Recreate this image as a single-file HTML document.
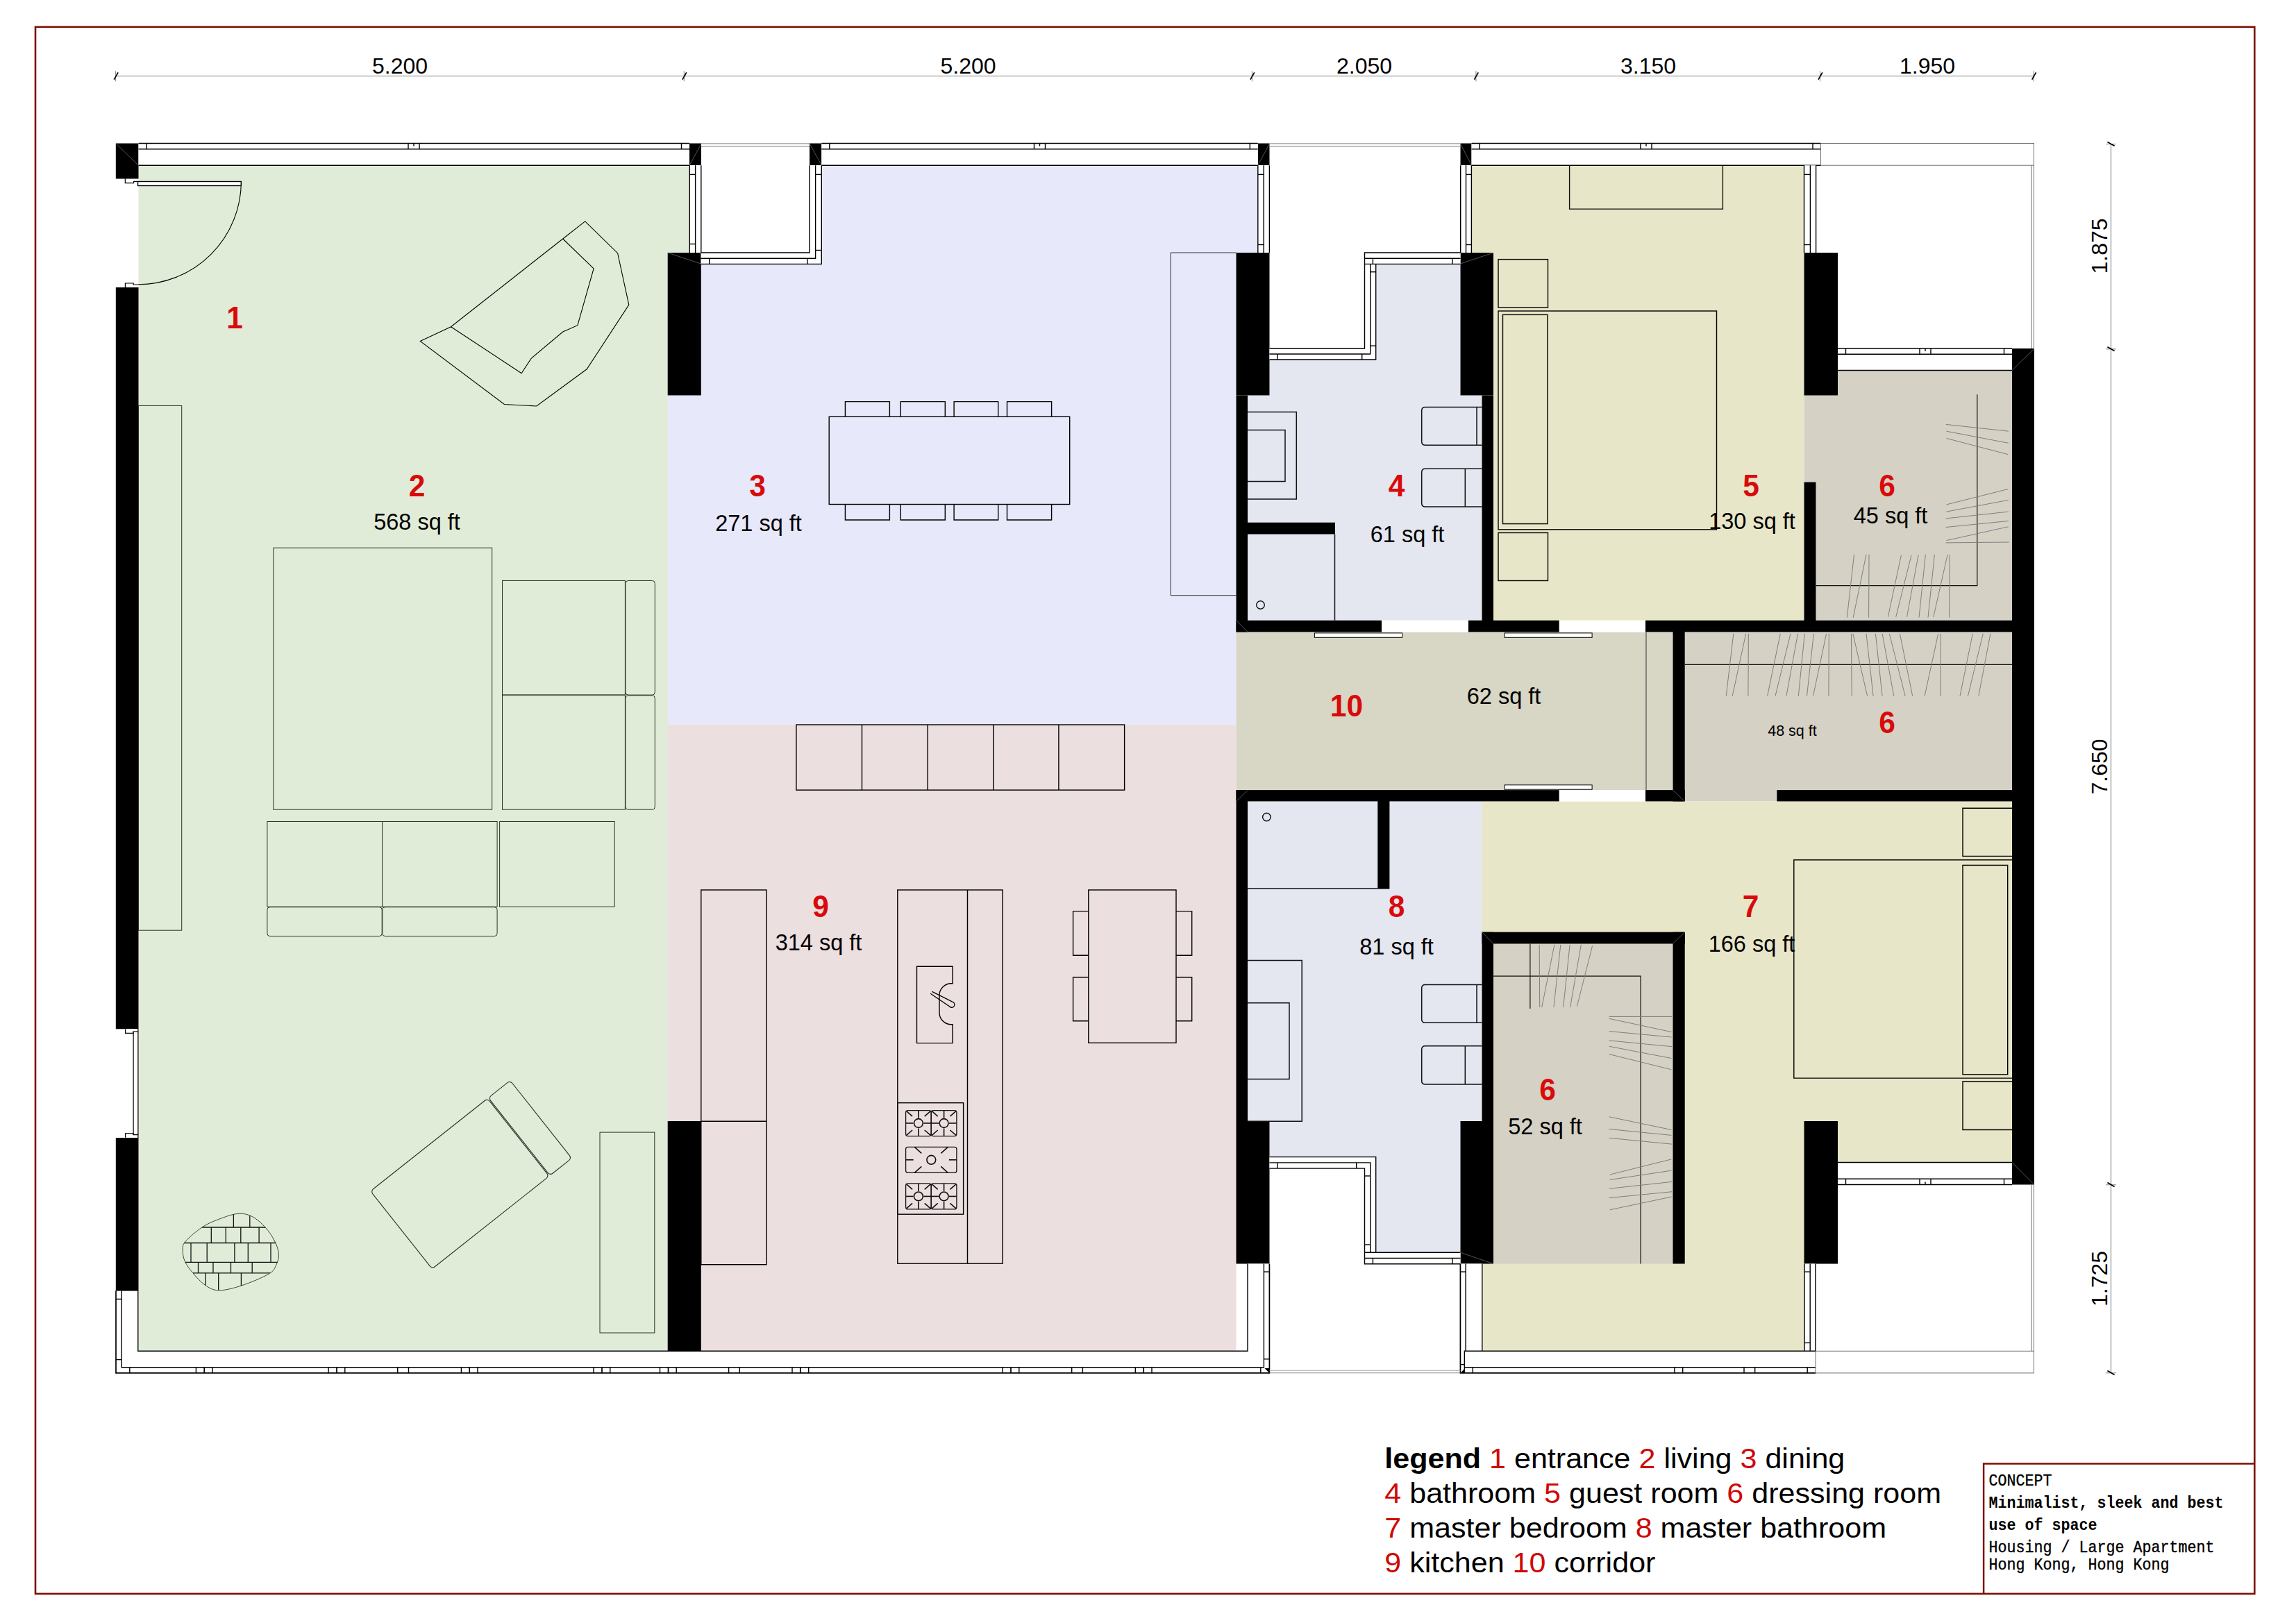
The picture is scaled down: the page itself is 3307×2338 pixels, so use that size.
<!DOCTYPE html>
<html><head><meta charset="utf-8"><title>Floor plan</title>
<style>
html,body{margin:0;padding:0;background:#fff;}
body{width:3307px;height:2338px;overflow:hidden;font-family:"Liberation Sans",sans-serif;}
svg{display:block;}
</style></head><body>
<svg width="3307" height="2338" viewBox="0 0 3307 2338" font-family="'Liberation Sans', sans-serif">
<rect x="0" y="0" width="3307" height="2338" fill="#fff"/>
<rect x="199.5" y="238" width="762.7" height="1708" fill="#e1ecd8"/>
<rect x="961.7" y="238" width="31.3" height="126" fill="#e1ecd8"/>
<path d="M1183 238 L1812 238 L1812 364 L1780.5 364 L1780.5 1043.5 L961.7 1043.5 L961.7 569.5 L1009.8 569.5 L1009.8 380 L1183 380 Z" fill="#e8e8fb"/>
<path d="M961.7 1043.5 L1780.5 1043.5 L1780.5 1946 L1009.8 1946 L1009.8 1615 L961.7 1615 Z" fill="#ecdfe0"/>
<rect x="961.7" y="1615" width="48.1" height="331" fill="#ecdfe0"/>
<path d="M1981.5 380 L2103.5 380 L2103.5 569.5 L2134.5 569.5 L2134.5 893.7 L1797 893.7 L1797 569.5 L1828.5 569.5 L1828.5 518 L1981.5 518 Z" fill="#e4e6f0"/>
<path d="M1797 1154.4 L2134.5 1154.4 L2134.5 1615 L2103.5 1615 L2103.5 1805 L1981.5 1805 L1981.5 1667 L1828.5 1667 L1828.5 1615 L1797 1615 Z" fill="#e4e6f0"/>
<path d="M2119.5 238 L2598.5 238 L2598.5 893.7 L2151 893.7 L2151 364 L2119.5 364 Z" fill="#e8e6c8"/>
<path d="M2134.5 1154.4 L2898 1154.4 L2898 1674.5 L2647 1674.5 L2647 1820.5 L2598.5 1820.5 L2598.5 1946 L2134.5 1946 Z" fill="#e8e6c8"/>
<path d="M2598.5 534 L2898 534 L2898 893.7 L2615.5 893.7 L2615.5 694.5 L2598.5 694.5 Z" fill="#d5d1c5"/>
<rect x="2426.5" y="910.4" width="471.5" height="244" fill="#d5d1c5"/>
<rect x="2151" y="1359.5" width="258.5" height="461" fill="#d5d1c5"/>
<rect x="1780.5" y="910.4" width="629" height="227.7" fill="#d8d6c4"/>
<rect x="166.8" y="206.5" width="32.7" height="51" fill="#000"/>
<rect x="166.8" y="414" width="32.7" height="1068.3" fill="#000"/>
<rect x="166.8" y="1639" width="32.7" height="221" fill="#000"/>
<rect x="993" y="206.5" width="17" height="31.5" fill="#000"/>
<rect x="1166" y="206.5" width="17.3" height="31.5" fill="#000"/>
<rect x="1811.8" y="206.5" width="16.7" height="31.5" fill="#000"/>
<rect x="2103.5" y="206.5" width="16" height="31.5" fill="#000"/>
<rect x="961.7" y="364" width="48.1" height="205.5" fill="#000"/>
<rect x="1780.5" y="364" width="48" height="205.5" fill="#000"/>
<rect x="2103.5" y="364" width="47.5" height="205.5" fill="#000"/>
<rect x="2598.5" y="364" width="48.5" height="205.5" fill="#000"/>
<rect x="961.7" y="1615" width="48.1" height="331" fill="#000"/>
<rect x="1780.5" y="1615" width="48" height="205.5" fill="#000"/>
<rect x="2103.5" y="1615" width="47.5" height="205.5" fill="#000"/>
<rect x="2598.5" y="1615" width="48.5" height="205.5" fill="#000"/>
<rect x="1780.5" y="569.5" width="16.5" height="340.9" fill="#000"/>
<rect x="1780.5" y="1138.1" width="16.5" height="476.9" fill="#000"/>
<rect x="2134.5" y="569.5" width="16.5" height="325.2" fill="#000"/>
<rect x="2598.5" y="694.5" width="17" height="200.2" fill="#000"/>
<rect x="2898" y="502" width="32" height="1204.5" fill="#000"/>
<rect x="2409.5" y="909.4" width="17.2" height="245" fill="#000"/>
<rect x="1780.5" y="893.7" width="209.5" height="16.7" fill="#000"/>
<rect x="2114.7" y="893.7" width="131.1" height="16.7" fill="#000"/>
<rect x="2370" y="893.7" width="529" height="16.7" fill="#000"/>
<rect x="1780.5" y="1138.1" width="465.3" height="16.3" fill="#000"/>
<rect x="2370" y="1138.1" width="56.7" height="16.3" fill="#000"/>
<rect x="2559.3" y="1138.1" width="339.7" height="16.3" fill="#000"/>
<rect x="1796" y="752.7" width="127" height="16.8" fill="#000"/>
<rect x="1984.3" y="1153.4" width="17.1" height="127.2" fill="#000"/>
<rect x="2134.5" y="1342.7" width="292.2" height="16.8" fill="#000"/>
<rect x="2134.5" y="1342.7" width="16.5" height="273.3" fill="#000"/>
<rect x="2409.5" y="1342.7" width="17.2" height="477.8" fill="#000"/>
<rect x="1990" y="893.7" width="124.7" height="16.7" fill="#fff"/>
<rect x="2245.8" y="893.7" width="124.2" height="16.7" fill="#fff"/>
<rect x="2245.8" y="1138.1" width="124.2" height="16.3" fill="#fff"/>
<rect x="199.5" y="206.5" width="793.5" height="31.7" fill="#fff"/>
<line x1="199.5" y1="206.5" x2="993" y2="206.5" stroke="#000" stroke-width="1.7"/>
<line x1="199.5" y1="214.8" x2="993" y2="214.8" stroke="#000" stroke-width="1.4"/>
<line x1="199.5" y1="238.2" x2="993" y2="238.2" stroke="#000" stroke-width="1.4"/>
<line x1="211" y1="206.5" x2="211" y2="214.8" stroke="#000" stroke-width="1.4"/>
<line x1="981.5" y1="206.5" x2="981.5" y2="214.8" stroke="#000" stroke-width="1.4"/>
<line x1="588" y1="206.5" x2="588" y2="214.8" stroke="#000" stroke-width="1.4"/>
<line x1="604" y1="206.5" x2="604" y2="214.8" stroke="#000" stroke-width="1.4"/>
<line x1="596" y1="206.5" x2="596" y2="210.5" stroke="#000" stroke-width="1.4"/>
<rect x="1183.3" y="206.5" width="628.5" height="31.7" fill="#fff"/>
<line x1="1183.3" y1="206.5" x2="1811.8" y2="206.5" stroke="#000" stroke-width="1.7"/>
<line x1="1183.3" y1="214.8" x2="1811.8" y2="214.8" stroke="#000" stroke-width="1.4"/>
<line x1="1183.3" y1="238.2" x2="1811.8" y2="238.2" stroke="#000" stroke-width="1.4"/>
<line x1="1194.8" y1="206.5" x2="1194.8" y2="214.8" stroke="#000" stroke-width="1.4"/>
<line x1="1800.3" y1="206.5" x2="1800.3" y2="214.8" stroke="#000" stroke-width="1.4"/>
<line x1="1489.5" y1="206.5" x2="1489.5" y2="214.8" stroke="#000" stroke-width="1.4"/>
<line x1="1505.5" y1="206.5" x2="1505.5" y2="214.8" stroke="#000" stroke-width="1.4"/>
<line x1="1497.5" y1="206.5" x2="1497.5" y2="210.5" stroke="#000" stroke-width="1.4"/>
<rect x="2119.5" y="206.5" width="503" height="31.7" fill="#fff"/>
<line x1="2119.5" y1="206.5" x2="2622.5" y2="206.5" stroke="#000" stroke-width="1.7"/>
<line x1="2119.5" y1="214.8" x2="2622.5" y2="214.8" stroke="#000" stroke-width="1.4"/>
<line x1="2119.5" y1="238.2" x2="2622.5" y2="238.2" stroke="#000" stroke-width="1.4"/>
<line x1="2131" y1="206.5" x2="2131" y2="214.8" stroke="#000" stroke-width="1.4"/>
<line x1="2611" y1="206.5" x2="2611" y2="214.8" stroke="#000" stroke-width="1.4"/>
<line x1="2363" y1="206.5" x2="2363" y2="214.8" stroke="#000" stroke-width="1.4"/>
<line x1="2379" y1="206.5" x2="2379" y2="214.8" stroke="#000" stroke-width="1.4"/>
<line x1="2371" y1="206.5" x2="2371" y2="210.5" stroke="#000" stroke-width="1.4"/>
<rect x="993.3" y="238.2" width="16.5" height="125.8" fill="#fff"/>
<line x1="993.3" y1="238.2" x2="993.3" y2="364" stroke="#000" stroke-width="1.4"/>
<line x1="1001.6" y1="238.2" x2="1001.6" y2="364" stroke="#000" stroke-width="1.4"/>
<line x1="1009.8" y1="238.2" x2="1009.8" y2="364" stroke="#000" stroke-width="1.4"/>
<line x1="993.3" y1="251.4" x2="1001.6" y2="251.4" stroke="#000" stroke-width="1.4"/>
<line x1="993.3" y1="351.5" x2="1001.6" y2="351.5" stroke="#000" stroke-width="1.4"/>
<rect x="1009.5" y="364" width="173.8" height="16.4" fill="#fff"/>
<rect x="1166" y="238.2" width="17.3" height="142.2" fill="#fff"/>
<path d="M1009.8 364 L1166 364 L1166 238.2" fill="none" stroke="#000" stroke-width="1.4" stroke-linejoin="miter"/>
<path d="M1009.5 372.2 L1174.6 372.2 L1174.6 238.2" fill="none" stroke="#000" stroke-width="1.4" stroke-linejoin="miter"/>
<path d="M1009.5 380.4 L1183.3 380.4 L1183.3 238.2" fill="none" stroke="#000" stroke-width="1.4" stroke-linejoin="miter"/>
<line x1="1021.7" y1="372.2" x2="1021.7" y2="380.4" stroke="#000" stroke-width="1.4"/>
<line x1="1162.7" y1="372.2" x2="1162.7" y2="380.4" stroke="#000" stroke-width="1.4"/>
<line x1="1174.6" y1="251.4" x2="1183.3" y2="251.4" stroke="#000" stroke-width="1.4"/>
<line x1="1174.6" y1="360.5" x2="1183.3" y2="360.5" stroke="#000" stroke-width="1.4"/>
<rect x="1811.8" y="238.2" width="16.6" height="125.8" fill="#fff"/>
<line x1="1811.8" y1="238.2" x2="1811.8" y2="364" stroke="#000" stroke-width="1.4"/>
<line x1="1820.2" y1="238.2" x2="1820.2" y2="364" stroke="#000" stroke-width="1.4"/>
<line x1="1828.4" y1="238.2" x2="1828.4" y2="364" stroke="#000" stroke-width="1.4"/>
<line x1="1811.8" y1="251.4" x2="1820.2" y2="251.4" stroke="#000" stroke-width="1.4"/>
<line x1="1811.8" y1="352.5" x2="1820.2" y2="352.5" stroke="#000" stroke-width="1.4"/>
<rect x="1828.5" y="502" width="153.2" height="16" fill="#fff"/>
<rect x="1965.5" y="364" width="16.2" height="154" fill="#fff"/>
<rect x="1965.5" y="364" width="138" height="16.4" fill="#fff"/>
<path d="M1828.5 502 L1965.5 502 L1965.5 364 L2103.5 364" fill="none" stroke="#000" stroke-width="1.4" stroke-linejoin="miter"/>
<path d="M1828.5 510 L1973.7 510 L1973.7 380.4" fill="none" stroke="#000" stroke-width="1.4" stroke-linejoin="miter"/>
<path d="M1828.5 518 L1981.7 518 L1981.7 380.4" fill="none" stroke="#000" stroke-width="1.4" stroke-linejoin="miter"/>
<path d="M1965.5 372.2 L2103.5 372.2" fill="none" stroke="#000" stroke-width="1.4" stroke-linejoin="miter"/>
<path d="M1965.5 380.4 L2103.5 380.4" fill="none" stroke="#000" stroke-width="1.4" stroke-linejoin="miter"/>
<line x1="1839.8" y1="510" x2="1839.8" y2="518" stroke="#000" stroke-width="1.4"/>
<line x1="1961.7" y1="510" x2="1961.7" y2="518" stroke="#000" stroke-width="1.4"/>
<line x1="1973.7" y1="391.7" x2="1981.7" y2="391.7" stroke="#000" stroke-width="1.4"/>
<line x1="1973.7" y1="498.2" x2="1981.7" y2="498.2" stroke="#000" stroke-width="1.4"/>
<line x1="1977.4" y1="372.2" x2="1977.4" y2="380.4" stroke="#000" stroke-width="1.4"/>
<line x1="2091.8" y1="372.2" x2="2091.8" y2="380.4" stroke="#000" stroke-width="1.4"/>
<rect x="2103.7" y="238.2" width="15.7" height="125.8" fill="#fff"/>
<line x1="2119.4" y1="238.2" x2="2119.4" y2="364" stroke="#000" stroke-width="1.4"/>
<line x1="2111.5" y1="238.2" x2="2111.5" y2="364" stroke="#000" stroke-width="1.4"/>
<line x1="2103.7" y1="238.2" x2="2103.7" y2="364" stroke="#000" stroke-width="1.4"/>
<line x1="2119.4" y1="251.4" x2="2111.5" y2="251.4" stroke="#000" stroke-width="1.4"/>
<line x1="2119.4" y1="352.5" x2="2111.5" y2="352.5" stroke="#000" stroke-width="1.4"/>
<rect x="2598.5" y="238.2" width="17.1" height="125.8" fill="#fff"/>
<line x1="2598.5" y1="238.2" x2="2598.5" y2="364" stroke="#000" stroke-width="1.4"/>
<line x1="2607.4" y1="238.2" x2="2607.4" y2="364" stroke="#000" stroke-width="1.4"/>
<line x1="2615.6" y1="238.2" x2="2615.6" y2="364" stroke="#000" stroke-width="1.4"/>
<line x1="2598.5" y1="251.4" x2="2607.4" y2="251.4" stroke="#000" stroke-width="1.4"/>
<line x1="2598.5" y1="352.5" x2="2607.4" y2="352.5" stroke="#000" stroke-width="1.4"/>
<rect x="2647" y="502" width="251" height="31.5" fill="#fff"/>
<line x1="2647" y1="502" x2="2898" y2="502" stroke="#000" stroke-width="1.7"/>
<line x1="2647" y1="510.3" x2="2898" y2="510.3" stroke="#000" stroke-width="1.4"/>
<line x1="2647" y1="533.5" x2="2898" y2="533.5" stroke="#000" stroke-width="1.4"/>
<line x1="2658.5" y1="502" x2="2658.5" y2="510.3" stroke="#000" stroke-width="1.4"/>
<line x1="2886.5" y1="502" x2="2886.5" y2="510.3" stroke="#000" stroke-width="1.4"/>
<line x1="2765" y1="502" x2="2765" y2="510.3" stroke="#000" stroke-width="1.4"/>
<line x1="2781" y1="502" x2="2781" y2="510.3" stroke="#000" stroke-width="1.4"/>
<line x1="2773" y1="502" x2="2773" y2="506" stroke="#000" stroke-width="1.4"/>
<rect x="2647" y="1674.5" width="251" height="32" fill="#fff"/>
<line x1="2647" y1="1706.5" x2="2898" y2="1706.5" stroke="#000" stroke-width="1.7"/>
<line x1="2647" y1="1698.2" x2="2898" y2="1698.2" stroke="#000" stroke-width="1.4"/>
<line x1="2647" y1="1674.5" x2="2898" y2="1674.5" stroke="#000" stroke-width="1.4"/>
<line x1="2658.5" y1="1706.5" x2="2658.5" y2="1698.2" stroke="#000" stroke-width="1.4"/>
<line x1="2886.5" y1="1706.5" x2="2886.5" y2="1698.2" stroke="#000" stroke-width="1.4"/>
<line x1="2765" y1="1706.5" x2="2765" y2="1698.2" stroke="#000" stroke-width="1.4"/>
<line x1="2781" y1="1706.5" x2="2781" y2="1698.2" stroke="#000" stroke-width="1.4"/>
<line x1="2773" y1="1706.5" x2="2773" y2="1702.5" stroke="#000" stroke-width="1.4"/>
<rect x="1828.5" y="1666.6" width="153.2" height="16.5" fill="#fff"/>
<rect x="1965.5" y="1666.6" width="16.2" height="154.1" fill="#fff"/>
<rect x="1965.5" y="1804.2" width="138" height="16.5" fill="#fff"/>
<path d="M1828.5 1683.1 L1965.5 1683.1 L1965.5 1820.7 L2103.5 1820.7" fill="none" stroke="#000" stroke-width="1.4" stroke-linejoin="miter"/>
<path d="M1828.5 1674.9 L1973.7 1674.9 L1973.7 1804.2" fill="none" stroke="#000" stroke-width="1.4" stroke-linejoin="miter"/>
<path d="M1828.5 1666.6 L1981.7 1666.6 L1981.7 1804.2" fill="none" stroke="#000" stroke-width="1.4" stroke-linejoin="miter"/>
<path d="M1965.5 1812.5 L2103.5 1812.5" fill="none" stroke="#000" stroke-width="1.4" stroke-linejoin="miter"/>
<path d="M1965.5 1804.2 L2103.5 1804.2" fill="none" stroke="#000" stroke-width="1.4" stroke-linejoin="miter"/>
<line x1="1839.8" y1="1674.9" x2="1839.8" y2="1683.1" stroke="#000" stroke-width="1.4"/>
<line x1="1953.7" y1="1674.9" x2="1953.7" y2="1683.1" stroke="#000" stroke-width="1.4"/>
<line x1="1965.5" y1="1694" x2="1973.7" y2="1694" stroke="#000" stroke-width="1.4"/>
<line x1="1965.5" y1="1793" x2="1973.7" y2="1793" stroke="#000" stroke-width="1.4"/>
<line x1="1977.4" y1="1812.5" x2="1977.4" y2="1820.7" stroke="#000" stroke-width="1.4"/>
<line x1="2091.8" y1="1812.5" x2="2091.8" y2="1820.7" stroke="#000" stroke-width="1.4"/>
<rect x="166.8" y="1859.6" width="32.7" height="118.3" fill="#fff"/>
<rect x="166.8" y="1946.2" width="1661.6" height="31.7" fill="#fff"/>
<rect x="1797" y="1820.5" width="31.4" height="157.4" fill="#fff"/>
<path d="M167 1859.6 L167 1977.9 L1828.4 1977.9 L1828.4 1820.5" fill="none" stroke="#000" stroke-width="1.7" stroke-linejoin="miter"/>
<path d="M175.1 1859.6 L175.1 1969.8 L1820.4 1969.8 L1820.4 1820.5" fill="none" stroke="#000" stroke-width="1.4" stroke-linejoin="miter"/>
<path d="M198.8 1859.6 L198.8 1946.2 L1797 1946.2 L1797 1820.5" fill="none" stroke="#000" stroke-width="1.4" stroke-linejoin="miter"/>
<line x1="167" y1="1871.4" x2="175.1" y2="1871.4" stroke="#000" stroke-width="1.4"/>
<line x1="167" y1="1958.6" x2="175.1" y2="1958.6" stroke="#000" stroke-width="1.4"/>
<line x1="1820.4" y1="1832.1" x2="1828.4" y2="1832.1" stroke="#000" stroke-width="1.4"/>
<line x1="1820.4" y1="1957.8" x2="1828.4" y2="1957.8" stroke="#000" stroke-width="1.4"/>
<line x1="1815.8" y1="1969.8" x2="1815.8" y2="1977.9" stroke="#000" stroke-width="1.4"/>
<path d="M1828.4 1977.9 L1828.4 1971 L1821.5 1971 Z" fill="#000"/>
<rect x="2103.4" y="1820.5" width="31.4" height="157.4" fill="#fff"/>
<rect x="2103.4" y="1946.2" width="511.6" height="31.7" fill="#fff"/>
<rect x="2599" y="1820.5" width="16" height="125.7" fill="#fff"/>
<path d="M2103.4 1820.5 L2103.4 1977.9 L2615 1977.9" fill="none" stroke="#000" stroke-width="1.7" stroke-linejoin="miter"/>
<path d="M2111.1 1820.5 L2111.1 1946.2" fill="none" stroke="#000" stroke-width="1.4" stroke-linejoin="miter"/>
<path d="M2134.8 1820.5 L2134.8 1946.2" fill="none" stroke="#000" stroke-width="1.4" stroke-linejoin="miter"/>
<path d="M2109.3 1977.9 L2109.3 1946.2 L2615 1946.2" fill="none" stroke="#000" stroke-width="1.4" stroke-linejoin="miter"/>
<path d="M2109.3 1969.8 L2615 1969.8" fill="none" stroke="#000" stroke-width="1.4" stroke-linejoin="miter"/>
<line x1="2103.4" y1="1832.1" x2="2111.1" y2="1832.1" stroke="#000" stroke-width="1.4"/>
<line x1="2103.4" y1="1965.6" x2="2109.3" y2="1965.6" stroke="#000" stroke-width="1.4"/>
<line x1="2121.3" y1="1969.8" x2="2121.3" y2="1977.9" stroke="#000" stroke-width="1.4"/>
<line x1="2603.2" y1="1969.8" x2="2603.2" y2="1977.9" stroke="#000" stroke-width="1.4"/>
<path d="M2103.4 1977.9 L2109.3 1977.9 L2109.3 1972 Z" fill="#000"/>
<line x1="2599.1" y1="1820.5" x2="2599.1" y2="1946.2" stroke="#000" stroke-width="1.4"/>
<line x1="2607.2" y1="1820.5" x2="2607.2" y2="1946.2" stroke="#000" stroke-width="1.4"/>
<line x1="2614.9" y1="1820.5" x2="2614.9" y2="1946.2" stroke="#000" stroke-width="1.4"/>
<line x1="2599.1" y1="1832.1" x2="2607.2" y2="1832.1" stroke="#000" stroke-width="1.4"/>
<line x1="2599.1" y1="1934.4" x2="2607.2" y2="1934.4" stroke="#000" stroke-width="1.4"/>
<line x1="186.8" y1="1977.9" x2="186.8" y2="1969.8" stroke="#000" stroke-width="1.4"/>
<line x1="282.4" y1="1977.9" x2="282.4" y2="1969.8" stroke="#000" stroke-width="1.4"/>
<line x1="294.2" y1="1977.9" x2="294.2" y2="1969.8" stroke="#000" stroke-width="1.7"/>
<line x1="306" y1="1977.9" x2="306" y2="1969.8" stroke="#000" stroke-width="1.4"/>
<line x1="473.1" y1="1977.9" x2="473.1" y2="1969.8" stroke="#000" stroke-width="1.4"/>
<line x1="485" y1="1977.9" x2="485" y2="1969.8" stroke="#000" stroke-width="1.7"/>
<line x1="496.8" y1="1977.9" x2="496.8" y2="1969.8" stroke="#000" stroke-width="1.4"/>
<line x1="572.7" y1="1977.9" x2="572.7" y2="1969.8" stroke="#000" stroke-width="1.4"/>
<line x1="588.5" y1="1977.9" x2="588.5" y2="1969.8" stroke="#000" stroke-width="1.4"/>
<line x1="664.4" y1="1977.9" x2="664.4" y2="1969.8" stroke="#000" stroke-width="1.4"/>
<line x1="676.2" y1="1977.9" x2="676.2" y2="1969.8" stroke="#000" stroke-width="1.7"/>
<line x1="688" y1="1977.9" x2="688" y2="1969.8" stroke="#000" stroke-width="1.4"/>
<line x1="855" y1="1977.9" x2="855" y2="1969.8" stroke="#000" stroke-width="1.4"/>
<line x1="867" y1="1977.9" x2="867" y2="1969.8" stroke="#000" stroke-width="1.7"/>
<line x1="878.8" y1="1977.9" x2="878.8" y2="1969.8" stroke="#000" stroke-width="1.4"/>
<line x1="950.5" y1="1977.9" x2="950.5" y2="1969.8" stroke="#000" stroke-width="1.4"/>
<line x1="962.5" y1="1977.9" x2="962.5" y2="1969.8" stroke="#000" stroke-width="1.7"/>
<line x1="974.2" y1="1977.9" x2="974.2" y2="1969.8" stroke="#000" stroke-width="1.4"/>
<line x1="1049.6" y1="1977.9" x2="1049.6" y2="1969.8" stroke="#000" stroke-width="1.4"/>
<line x1="1065.3" y1="1977.9" x2="1065.3" y2="1969.8" stroke="#000" stroke-width="1.4"/>
<line x1="1141" y1="1977.9" x2="1141" y2="1969.8" stroke="#000" stroke-width="1.4"/>
<line x1="1152.8" y1="1977.9" x2="1152.8" y2="1969.8" stroke="#000" stroke-width="1.7"/>
<line x1="1164.7" y1="1977.9" x2="1164.7" y2="1969.8" stroke="#000" stroke-width="1.4"/>
<line x1="1444.1" y1="1977.9" x2="1444.1" y2="1969.8" stroke="#000" stroke-width="1.4"/>
<line x1="1456" y1="1977.9" x2="1456" y2="1969.8" stroke="#000" stroke-width="1.7"/>
<line x1="1467.8" y1="1977.9" x2="1467.8" y2="1969.8" stroke="#000" stroke-width="1.4"/>
<line x1="1543.7" y1="1977.9" x2="1543.7" y2="1969.8" stroke="#000" stroke-width="1.4"/>
<line x1="1559.4" y1="1977.9" x2="1559.4" y2="1969.8" stroke="#000" stroke-width="1.4"/>
<line x1="1635.3" y1="1977.9" x2="1635.3" y2="1969.8" stroke="#000" stroke-width="1.4"/>
<line x1="1647.2" y1="1977.9" x2="1647.2" y2="1969.8" stroke="#000" stroke-width="1.7"/>
<line x1="1659" y1="1977.9" x2="1659" y2="1969.8" stroke="#000" stroke-width="1.4"/>
<line x1="2411.9" y1="1977.9" x2="2411.9" y2="1969.8" stroke="#000" stroke-width="1.4"/>
<line x1="2423.7" y1="1977.9" x2="2423.7" y2="1969.8" stroke="#000" stroke-width="1.4"/>
<line x1="2512" y1="1977.9" x2="2512" y2="1969.8" stroke="#000" stroke-width="1.4"/>
<line x1="2527.7" y1="1977.9" x2="2527.7" y2="1969.8" stroke="#000" stroke-width="1.4"/>
<rect x="180.6" y="1482.3" width="18.9" height="156.7" fill="#fff"/>
<path d="M180.6 1482.5 L180.6 1488.3 L191.9 1488.3 L191.9 1486.1 L198.9 1486.1" fill="none" stroke="#000" stroke-width="1.2"/>
<path d="M180.6 1638.8 L180.6 1632.5 L191.9 1632.5 L191.9 1634.7 L198.9 1634.7" fill="none" stroke="#000" stroke-width="1.2"/>
<line x1="192.1" y1="1486.1" x2="192.1" y2="1634.7" stroke="#000" stroke-width="1.2"/>
<line x1="198.9" y1="1482.3" x2="198.9" y2="1639" stroke="#000" stroke-width="1.3"/>
<rect x="2622.5" y="206.5" width="307" height="31.7" fill="none" stroke="#6e6e6e" stroke-width="1.0"/>
<line x1="2926" y1="238.2" x2="2926" y2="502" stroke="#6e6e6e" stroke-width="1.0"/>
<line x1="2929.5" y1="238.2" x2="2929.5" y2="502" stroke="#6e6e6e" stroke-width="1.0"/>
<path d="M2615 1946.3 L2929.5 1946.3 L2929.5 1977.9 L2615 1977.9 Z" fill="none" stroke="#6e6e6e" stroke-width="1.0"/>
<line x1="2926" y1="1706.5" x2="2926" y2="1946.3" stroke="#6e6e6e" stroke-width="1.0"/>
<line x1="2929.5" y1="1706.5" x2="2929.5" y2="1946.3" stroke="#6e6e6e" stroke-width="1.0"/>
<line x1="1828.5" y1="1977.7" x2="2103.4" y2="1977.7" stroke="#8c8c8c" stroke-width="1.1"/>
<line x1="1828.5" y1="1974.2" x2="2103.4" y2="1974.2" stroke="#a4a4a4" stroke-width="1.1"/>
<line x1="1828.5" y1="206.9" x2="2103.5" y2="206.9" stroke="#999" stroke-width="1.1"/>
<line x1="1010" y1="206.9" x2="1166" y2="206.9" stroke="#999" stroke-width="1.1"/>
<line x1="1828.5" y1="210.9" x2="2103.5" y2="210.9" stroke="#999" stroke-width="1.1"/>
<line x1="1010" y1="210.9" x2="1166" y2="210.9" stroke="#999" stroke-width="1.1"/>
<path d="M347.4 261.4 A148.4 148.4 0 0 1 199 409.8" fill="none" stroke="#000" stroke-width="1.1"/>
<rect x="198.5" y="261.5" width="148.8" height="6" fill="#fff" stroke="#000" stroke-width="1.4"/>
<path d="M180.3 257.2 L180.3 263.6 L192.7 263.6 L192.7 261.4 L198.5 261.4" fill="none" stroke="#000" stroke-width="1.2"/>
<path d="M180.4 414.2 L180.4 408 L192.2 408 L192.2 410 L199 410" fill="none" stroke="#000" stroke-width="1.2"/>
<line x1="167" y1="206.7" x2="199" y2="238" stroke="#8a8a8a" stroke-width="0.6"/>
<line x1="993.3" y1="238" x2="1010" y2="207" stroke="#8a8a8a" stroke-width="0.6"/>
<line x1="1166" y1="207" x2="1183.3" y2="238" stroke="#8a8a8a" stroke-width="0.6"/>
<line x1="1811.8" y1="238" x2="1828.4" y2="207" stroke="#8a8a8a" stroke-width="0.6"/>
<line x1="2103.5" y1="207" x2="2119.5" y2="238" stroke="#8a8a8a" stroke-width="0.6"/>
<line x1="1780.5" y1="893.7" x2="1797" y2="910.4" stroke="#8a8a8a" stroke-width="0.6"/>
<line x1="1780.5" y1="1154.4" x2="1797" y2="1138.1" stroke="#8a8a8a" stroke-width="0.6"/>
<line x1="2409.5" y1="1138.1" x2="2426.7" y2="1154.4" stroke="#8a8a8a" stroke-width="0.6"/>
<line x1="2134.5" y1="1342.7" x2="2151" y2="1359.5" stroke="#8a8a8a" stroke-width="0.6"/>
<line x1="2426.7" y1="1342.7" x2="2409.5" y2="1359.5" stroke="#8a8a8a" stroke-width="0.6"/>
<line x1="2898" y1="533.5" x2="2930" y2="502" stroke="#8a8a8a" stroke-width="0.6"/>
<line x1="2898" y1="1674.5" x2="2930" y2="1706.5" stroke="#8a8a8a" stroke-width="0.6"/>
<line x1="961.5" y1="364" x2="1009.5" y2="380" stroke="#8a8a8a" stroke-width="0.6"/>
<line x1="2103.5" y1="380" x2="2151" y2="364" stroke="#8a8a8a" stroke-width="0.6"/>
<line x1="2103.5" y1="1804.2" x2="2151" y2="1820.5" stroke="#8a8a8a" stroke-width="0.6"/>
<rect x="199.5" y="584.5" width="62.2" height="755.7" fill="none" stroke="#2a3322" stroke-width="1.0"/>
<rect x="393.8" y="789.2" width="314.9" height="377" fill="none" stroke="#2a3322" stroke-width="1.0"/>
<rect x="723.5" y="836.5" width="176.9" height="164.6" fill="none" stroke="#2a3322" stroke-width="1.0"/>
<rect x="723.5" y="1001.1" width="176.9" height="165.1" fill="none" stroke="#2a3322" stroke-width="1.0"/>
<rect x="900.9" y="836.5" width="42.4" height="164.6" fill="none" stroke="#2a3322" stroke-width="1.0" rx="4"/>
<rect x="900.9" y="1001.8" width="42.4" height="164.4" fill="none" stroke="#2a3322" stroke-width="1.0" rx="4"/>
<rect x="384.9" y="1183.5" width="165.6" height="122.7" fill="none" stroke="#2a3322" stroke-width="1.0"/>
<rect x="550.5" y="1183.5" width="165.6" height="122.7" fill="none" stroke="#2a3322" stroke-width="1.0"/>
<rect x="719.6" y="1183.5" width="165.6" height="122.7" fill="none" stroke="#2a3322" stroke-width="1.0"/>
<rect x="384.9" y="1306.7" width="165.3" height="41.9" fill="none" stroke="#2a3322" stroke-width="1.0" rx="4"/>
<rect x="550.8" y="1306.7" width="165.3" height="41.9" fill="none" stroke="#2a3322" stroke-width="1.0" rx="4"/>
<rect x="864" y="1631.1" width="78.8" height="288.9" fill="none" stroke="#2a3322" stroke-width="1.0"/>
<path d="M605.2 491.4 L649.5 470.7 L810.7 344 L842.7 318.9 L889.6 364.7 L905.8 439.1 L845.2 531.8 L772.8 585 L726.4 582.5 Z" fill="none" stroke="#000" stroke-width="1.1"/>
<path d="M649.5 470.7 L751.1 537.7 L765.4 516 L810.7 478 L831.9 468.7 L855.1 386.9 L810.7 344" fill="none" stroke="#000" stroke-width="1.1"/>
<g transform="translate(533.7 1715.9) rotate(-38.39)" fill="none" stroke="#2a2e28" stroke-width="1.1">
<rect x="0" y="0" width="215" height="142.8" rx="5"/>
<rect x="216.5" y="0" width="40.1" height="142.8" rx="5"/>
</g>
<clipPath id="blob"><path d="M342.5 1748.4 C350.6 1747.7 356.6 1749.3 363.2 1752.5 C369.8 1755.8 376.5 1761.9 381.9 1767.8 C387.4 1773.7 392.5 1781.5 395.7 1788 C399 1794.5 401.1 1801 401.5 1806.7 C401.8 1812.5 400.1 1817.7 397.7 1822.5 C395.3 1827.3 395.2 1830.4 386.9 1835.3 C378.5 1840.3 359.4 1848.2 347.4 1852.1 C335.4 1856 323.6 1859 314.9 1858.8 C306.2 1858.6 301.4 1855.3 295.2 1851.1 C289 1846.9 282.2 1838.9 277.5 1833.4 C272.7 1827.8 269 1822.7 266.6 1817.6 C264.2 1812.5 263.3 1807.6 263.3 1802.8 C263.3 1798 261.9 1794.8 266.6 1789 C271.3 1783.2 283.2 1773.2 291.3 1767.8 C299.3 1762.4 306.4 1759.7 314.9 1756.5 C323.5 1753.2 334.5 1749 342.5 1748.4 Z"/></clipPath>
<path d="M342.5 1748.4 C350.6 1747.7 356.6 1749.3 363.2 1752.5 C369.8 1755.8 376.5 1761.9 381.9 1767.8 C387.4 1773.7 392.5 1781.5 395.7 1788 C399 1794.5 401.1 1801 401.5 1806.7 C401.8 1812.5 400.1 1817.7 397.7 1822.5 C395.3 1827.3 395.2 1830.4 386.9 1835.3 C378.5 1840.3 359.4 1848.2 347.4 1852.1 C335.4 1856 323.6 1859 314.9 1858.8 C306.2 1858.6 301.4 1855.3 295.2 1851.1 C289 1846.9 282.2 1838.9 277.5 1833.4 C272.7 1827.8 269 1822.7 266.6 1817.6 C264.2 1812.5 263.3 1807.6 263.3 1802.8 C263.3 1798 261.9 1794.8 266.6 1789 C271.3 1783.2 283.2 1773.2 291.3 1767.8 C299.3 1762.4 306.4 1759.7 314.9 1756.5 C323.5 1753.2 334.5 1749 342.5 1748.4 Z" fill="none" stroke="#2a3322" stroke-width="0.9"/>
<g clip-path="url(#blob)" stroke="#111" stroke-width="1.3">
<line x1="290.8" y1="1768" x2="382.4" y2="1768"/>
<line x1="263.7" y1="1790.5" x2="401.7" y2="1790.5"/>
<line x1="265.6" y1="1818.3" x2="401.7" y2="1818.3"/>
<line x1="277.9" y1="1833.8" x2="389.8" y2="1833.8"/>
<line x1="336.4" y1="1739.7" x2="336.4" y2="1768"/>
<line x1="359.8" y1="1739.7" x2="359.8" y2="1768"/>
<line x1="304.3" y1="1768" x2="304.3" y2="1790.5"/>
<line x1="325.3" y1="1768" x2="325.3" y2="1790.5"/>
<line x1="346.8" y1="1768" x2="346.8" y2="1790.5"/>
<line x1="373.1" y1="1768" x2="373.1" y2="1790.5"/>
<line x1="275" y1="1790.5" x2="275" y2="1818.3"/>
<line x1="298.2" y1="1790.5" x2="298.2" y2="1818.3"/>
<line x1="337.9" y1="1790.5" x2="337.9" y2="1818.3"/>
<line x1="357.3" y1="1790.5" x2="357.3" y2="1818.3"/>
<line x1="390" y1="1790.5" x2="390" y2="1818.3"/>
<line x1="285.5" y1="1818.3" x2="285.5" y2="1833.8"/>
<line x1="307" y1="1818.3" x2="307" y2="1833.8"/>
<line x1="332.5" y1="1818.3" x2="332.5" y2="1833.8"/>
<line x1="363.2" y1="1818.3" x2="363.2" y2="1833.8"/>
<line x1="295.9" y1="1833.8" x2="295.9" y2="1867.9"/>
<line x1="314.7" y1="1833.8" x2="314.7" y2="1867.9"/>
<line x1="347.4" y1="1833.8" x2="347.4" y2="1867.9"/>
</g>
<rect x="1194.2" y="600.3" width="346.5" height="126.2" fill="none" stroke="#000" stroke-width="1.4"/>
<path d="M1217.4 600.3 L1217.4 578.6 L1281.4 578.6 L1281.4 600.3" fill="none" stroke="#000" stroke-width="1.4"/>
<path d="M1217.4 726.5 L1217.4 749 L1281.4 749 L1281.4 726.5" fill="none" stroke="#000" stroke-width="1.4"/>
<path d="M1297.2 600.3 L1297.2 578.6 L1361.3 578.6 L1361.3 600.3" fill="none" stroke="#000" stroke-width="1.4"/>
<path d="M1297.2 726.5 L1297.2 749 L1361.3 749 L1361.3 726.5" fill="none" stroke="#000" stroke-width="1.4"/>
<path d="M1374.1 600.3 L1374.1 578.6 L1437.7 578.6 L1437.7 600.3" fill="none" stroke="#000" stroke-width="1.4"/>
<path d="M1374.1 726.5 L1374.1 749 L1437.7 749 L1437.7 726.5" fill="none" stroke="#000" stroke-width="1.4"/>
<path d="M1450.5 600.3 L1450.5 578.6 L1514.6 578.6 L1514.6 600.3" fill="none" stroke="#000" stroke-width="1.4"/>
<path d="M1450.5 726.5 L1450.5 749 L1514.6 749 L1514.6 726.5" fill="none" stroke="#000" stroke-width="1.4"/>
<path d="M1780.5 364 L1686.1 364 L1686.1 857.7 L1780.5 857.7" fill="none" stroke="#333" stroke-width="1.0"/>
<rect x="1146.9" y="1044" width="472.7" height="94.1" fill="none" stroke="#000" stroke-width="1.4"/>
<line x1="1241.5" y1="1044" x2="1241.5" y2="1138.1" stroke="#000" stroke-width="1.4"/>
<line x1="1336.2" y1="1044" x2="1336.2" y2="1138.1" stroke="#000" stroke-width="1.4"/>
<line x1="1430.8" y1="1044" x2="1430.8" y2="1138.1" stroke="#000" stroke-width="1.4"/>
<line x1="1524.9" y1="1044" x2="1524.9" y2="1138.1" stroke="#000" stroke-width="1.4"/>
<rect x="1009.8" y="1282" width="94.2" height="539.7" fill="none" stroke="#000" stroke-width="1.4"/>
<line x1="1009.8" y1="1615.2" x2="1104" y2="1615.2" stroke="#000" stroke-width="1.4"/>
<rect x="1292.8" y="1282" width="151.3" height="538.2" fill="none" stroke="#000" stroke-width="1.4"/>
<line x1="1393.5" y1="1282" x2="1393.5" y2="1820.2" stroke="#000" stroke-width="1.4"/>
<path d="M1320.5 1392.2 L1320.5 1502.6 L1372.1 1502.6 L1372.1 1475.8 L1370.1 1475.8 A17.1 17.1 0 0 1 1353 1458.7 L1353 1433.8 A17.1 17.1 0 0 1 1370.1 1416.7 L1372.1 1416.7 L1372.1 1392.2 Z" fill="none" stroke="#000" stroke-width="1.4"/>
<path d="M1340.2 1431.2 L1367.8 1450 A4.1 4.1 0 1 0 1371.7 1443.2 L1342.4 1428.4" fill="none" stroke="#000" stroke-width="1.3"/>
<rect x="1292.7" y="1588.7" width="94.9" height="160.5" fill="none" stroke="#000" stroke-width="1.4"/>
<rect x="1304.6" y="1599.6" width="36.6" height="37" fill="none" stroke="#111" stroke-width="1.3" rx="3"/>
<rect x="1341.2" y="1599.6" width="36.7" height="37" fill="none" stroke="#111" stroke-width="1.3" rx="3"/>
<g stroke="#111" stroke-width="1.6" fill="none">
<circle cx="1322.9" cy="1618" r="6.4"/>
<line x1="1322.9" y1="1599.6" x2="1322.9" y2="1610.6"/>
<line x1="1322.9" y1="1636.5" x2="1322.9" y2="1625.4"/>
<line x1="1304.6" y1="1618" x2="1315.5" y2="1618"/>
<line x1="1341.2" y1="1618" x2="1330.3" y2="1618"/>
<line x1="1305.9" y1="1600.9" x2="1314.1" y2="1608.1"/>
<line x1="1305.9" y1="1635.2" x2="1314.1" y2="1628"/>
<line x1="1340" y1="1600.9" x2="1331.7" y2="1608.1"/>
<line x1="1340" y1="1635.2" x2="1331.7" y2="1628"/>
</g>
<g stroke="#111" stroke-width="1.6" fill="none">
<circle cx="1359.6" cy="1618" r="6.4"/>
<line x1="1359.6" y1="1599.6" x2="1359.6" y2="1610.6"/>
<line x1="1359.6" y1="1636.5" x2="1359.6" y2="1625.4"/>
<line x1="1341.2" y1="1618" x2="1352.2" y2="1618"/>
<line x1="1377.9" y1="1618" x2="1367" y2="1618"/>
<line x1="1342.5" y1="1600.9" x2="1350.7" y2="1608.1"/>
<line x1="1342.5" y1="1635.2" x2="1350.7" y2="1628"/>
<line x1="1376.7" y1="1600.9" x2="1368.4" y2="1608.1"/>
<line x1="1376.7" y1="1635.2" x2="1368.4" y2="1628"/>
</g>
<rect x="1304.6" y="1704.9" width="36.6" height="37" fill="none" stroke="#111" stroke-width="1.3" rx="3"/>
<rect x="1341.2" y="1704.9" width="36.7" height="37" fill="none" stroke="#111" stroke-width="1.3" rx="3"/>
<g stroke="#111" stroke-width="1.6" fill="none">
<circle cx="1322.9" cy="1723.4" r="6.4"/>
<line x1="1322.9" y1="1704.9" x2="1322.9" y2="1716"/>
<line x1="1322.9" y1="1741.9" x2="1322.9" y2="1730.8"/>
<line x1="1304.6" y1="1723.4" x2="1315.5" y2="1723.4"/>
<line x1="1341.2" y1="1723.4" x2="1330.3" y2="1723.4"/>
<line x1="1305.9" y1="1706.2" x2="1314.1" y2="1713.4"/>
<line x1="1305.9" y1="1740.6" x2="1314.1" y2="1733.4"/>
<line x1="1340" y1="1706.2" x2="1331.7" y2="1713.4"/>
<line x1="1340" y1="1740.6" x2="1331.7" y2="1733.4"/>
</g>
<g stroke="#111" stroke-width="1.6" fill="none">
<circle cx="1359.6" cy="1723.4" r="6.4"/>
<line x1="1359.6" y1="1704.9" x2="1359.6" y2="1716"/>
<line x1="1359.6" y1="1741.9" x2="1359.6" y2="1730.8"/>
<line x1="1341.2" y1="1723.4" x2="1352.2" y2="1723.4"/>
<line x1="1377.9" y1="1723.4" x2="1367" y2="1723.4"/>
<line x1="1342.5" y1="1706.2" x2="1350.7" y2="1713.4"/>
<line x1="1342.5" y1="1740.6" x2="1350.7" y2="1733.4"/>
<line x1="1376.7" y1="1706.2" x2="1368.4" y2="1713.4"/>
<line x1="1376.7" y1="1740.6" x2="1368.4" y2="1733.4"/>
</g>
<rect x="1304.6" y="1652.3" width="73.3" height="37" fill="none" stroke="#111" stroke-width="1.3" rx="3"/>
<g stroke="#111" stroke-width="1.6" fill="none">
<circle cx="1341.3" cy="1670.8" r="6.4"/>
<line x1="1304.6" y1="1670.8" x2="1315.6" y2="1670.8"/>
<line x1="1377.9" y1="1670.8" x2="1366.9" y2="1670.8"/>
<line x1="1317.3" y1="1652.3" x2="1327.3" y2="1661.3"/>
<line x1="1317.3" y1="1689.3" x2="1327.3" y2="1680.3"/>
<line x1="1365.3" y1="1652.3" x2="1355.3" y2="1661.3"/>
<line x1="1365.3" y1="1689.3" x2="1355.3" y2="1680.3"/>
</g>
<rect x="1567.8" y="1282" width="126.2" height="220.3" fill="none" stroke="#000" stroke-width="1.4"/>
<path d="M1567.8 1312.6 L1545.6 1312.6 L1545.6 1376.2 L1567.8 1376.2" fill="none" stroke="#000" stroke-width="1.4"/>
<path d="M1694 1312.6 L1716.7 1312.6 L1716.7 1376.2 L1694 1376.2" fill="none" stroke="#000" stroke-width="1.4"/>
<path d="M1567.8 1407.7 L1545.6 1407.7 L1545.6 1470.8 L1567.8 1470.8" fill="none" stroke="#000" stroke-width="1.4"/>
<path d="M1694 1407.7 L1716.7 1407.7 L1716.7 1470.8 L1694 1470.8" fill="none" stroke="#000" stroke-width="1.4"/>
<path d="M1797 593.4 L1867.3 593.4 L1867.3 719 L1797 719" fill="none" stroke="#111" stroke-width="1.5"/>
<path d="M1797 619.5 L1851 619.5 L1851 693.4 L1797 693.4" fill="none" stroke="#111" stroke-width="1.5"/>
<path d="M2134.5 586.5 L2053 586.5 Q2047.7 586.5 2047.7 591.5 L2047.7 636.2 Q2047.7 641.2 2053 641.2 L2134.5 641.2" fill="none" stroke="#111" stroke-width="1.5"/>
<line x1="2127" y1="586.5" x2="2127" y2="641.2" stroke="#111" stroke-width="1.5"/>
<path d="M2134.5 675.2 L2053 675.2 Q2047.7 675.2 2047.7 680.2 L2047.7 724.9 Q2047.7 729.9 2053 729.9 L2134.5 729.9" fill="none" stroke="#111" stroke-width="1.5"/>
<line x1="2110.3" y1="675.2" x2="2110.3" y2="729.9" stroke="#111" stroke-width="1.5"/>
<path d="M1922.5 769.5 L1922.5 893.7" fill="none" stroke="#111" stroke-width="1.5"/>
<circle cx="1815.5" cy="871.5" r="5.8" fill="none" stroke="#111" stroke-width="1.4"/>
<path d="M1797 1280 L1984.3 1280" fill="none" stroke="#111" stroke-width="1.5"/>
<circle cx="1824.4" cy="1177" r="5.8" fill="none" stroke="#111" stroke-width="1.4"/>
<path d="M1797 1383.6 L1875.2 1383.6 L1875.2 1615.2 L1797 1615.2" fill="none" stroke="#111" stroke-width="1.5"/>
<path d="M1797 1444.7 L1857 1444.7 L1857 1554.6 L1797 1554.6" fill="none" stroke="#111" stroke-width="1.5"/>
<path d="M2134.5 1418.6 L2053 1418.6 Q2047.7 1418.6 2047.7 1423.6 L2047.7 1468.3 Q2047.7 1473.3 2053 1473.3 L2134.5 1473.3" fill="none" stroke="#111" stroke-width="1.5"/>
<line x1="2127" y1="1418.6" x2="2127" y2="1473.3" stroke="#111" stroke-width="1.5"/>
<path d="M2134.5 1506.8 L2053 1506.8 Q2047.7 1506.8 2047.7 1511.8 L2047.7 1557 Q2047.7 1562 2053 1562 L2134.5 1562" fill="none" stroke="#111" stroke-width="1.5"/>
<line x1="2110.3" y1="1506.8" x2="2110.3" y2="1562" stroke="#111" stroke-width="1.5"/>
<path d="M2260.6 238 L2260.6 301.1 L2481.4 301.1 L2481.4 238" fill="none" stroke="#111" stroke-width="1.4"/>
<rect x="2158" y="448" width="314.5" height="314.8" fill="none" stroke="#000" stroke-width="1.4"/>
<rect x="2164.5" y="453.4" width="64.5" height="301.2" fill="none" stroke="#000" stroke-width="1.4"/>
<rect x="2158" y="373.6" width="71.5" height="69.4" fill="none" stroke="#000" stroke-width="1.4"/>
<rect x="2158" y="767.5" width="71.5" height="69" fill="none" stroke="#000" stroke-width="1.4"/>
<path d="M2898 1238.7 L2583.8 1238.7 L2583.8 1553.1 L2898 1553.1" fill="none" stroke="#000" stroke-width="1.4"/>
<rect x="2827" y="1246.4" width="64.7" height="301.4" fill="none" stroke="#000" stroke-width="1.4"/>
<path d="M2898 1164.3 L2827 1164.3 L2827 1233.4 L2898 1233.4" fill="none" stroke="#000" stroke-width="1.4"/>
<path d="M2898 1558 L2827 1558 L2827 1627.5 L2898 1627.5" fill="none" stroke="#000" stroke-width="1.4"/>
<rect x="1893.4" y="911.9" width="126.2" height="6.4" fill="#fff" stroke="#000" stroke-width="1.0"/>
<rect x="2167" y="911.9" width="126.1" height="6.4" fill="#fff" stroke="#000" stroke-width="1.0"/>
<rect x="2167" y="1130.8" width="126.1" height="6.4" fill="#fff" stroke="#000" stroke-width="1.0"/>
<line x1="2371" y1="910.4" x2="2371" y2="1138.1" stroke="#333" stroke-width="1.0"/>
<path d="M2847.8 568.3 L2847.8 843.7 L2615.5 843.7" fill="none" stroke="#111" stroke-width="1.2"/>
<line x1="2426.7" y1="957.3" x2="2898" y2="957.3" stroke="#111" stroke-width="1.2"/>
<path d="M2151 1406.2 L2363.1 1406.2 L2363.1 1820.5" fill="none" stroke="#111" stroke-width="1.2"/>
<line x1="2203.9" y1="1359.5" x2="2203.9" y2="1453" stroke="#111" stroke-width="1.2"/>
<g stroke="#7f7f7f" stroke-width="1" fill="none">
<line x1="2802.7" y1="611.4" x2="2892.9" y2="621.2"/>
<line x1="2803.5" y1="621.2" x2="2892.9" y2="638.3"/>
<line x1="2803.5" y1="631.4" x2="2892.1" y2="654.6"/>
<line x1="2803.5" y1="726.9" x2="2892.1" y2="704.6"/>
<line x1="2803.5" y1="737.1" x2="2892.9" y2="720.4"/>
<line x1="2802.7" y1="746.9" x2="2892.9" y2="737.1"/>
<line x1="2802.7" y1="759.5" x2="2892.9" y2="750.5"/>
<line x1="2803.5" y1="778.6" x2="2892.9" y2="758.7"/>
<line x1="2802.7" y1="781.9" x2="2893.8" y2="781"/>
<line x1="2670.5" y1="798.9" x2="2660.3" y2="889.6"/>
<line x1="2688" y1="798.9" x2="2669.2" y2="889.6"/>
<line x1="2692" y1="798.9" x2="2691.6" y2="889.6"/>
<line x1="2738.4" y1="799.8" x2="2719.3" y2="888.8"/>
<line x1="2753" y1="799.8" x2="2730.7" y2="888.8"/>
<line x1="2763.2" y1="798.9" x2="2746.5" y2="888.8"/>
<line x1="2773.4" y1="798.9" x2="2764" y2="889.6"/>
<line x1="2786.4" y1="798.9" x2="2777" y2="889.6"/>
<line x1="2805.1" y1="798.9" x2="2784.8" y2="888.8"/>
<line x1="2808.3" y1="798.9" x2="2807.5" y2="889.6"/>
<line x1="2496.8" y1="912.8" x2="2486.2" y2="1002.7"/>
<line x1="2514.7" y1="912.8" x2="2495.2" y2="1002.7"/>
<line x1="2518.4" y1="912.8" x2="2517.9" y2="1002.7"/>
<line x1="2564.3" y1="912.8" x2="2545.6" y2="1002.7"/>
<line x1="2579" y1="912.8" x2="2557" y2="1002.7"/>
<line x1="2589.5" y1="912.8" x2="2572.9" y2="1002.7"/>
<line x1="2599.3" y1="912.8" x2="2590.3" y2="1002.7"/>
<line x1="2612.3" y1="912.8" x2="2602.5" y2="1002.7"/>
<line x1="2630.6" y1="912.8" x2="2611.5" y2="1002.7"/>
<line x1="2634.3" y1="912.8" x2="2633.9" y2="1002.7"/>
<line x1="2666.4" y1="912.8" x2="2667.2" y2="1002.7"/>
<line x1="2668.8" y1="912.8" x2="2689.6" y2="1002.7"/>
<line x1="2688" y1="912.8" x2="2698.1" y2="1002.7"/>
<line x1="2701.4" y1="912.8" x2="2711.1" y2="1002.7"/>
<line x1="2711.1" y1="912.8" x2="2727.8" y2="1002.7"/>
<line x1="2721.3" y1="912.8" x2="2744.1" y2="1002.7"/>
<line x1="2736.4" y1="912.8" x2="2754.7" y2="1002.7"/>
<line x1="2791.7" y1="912.8" x2="2772.1" y2="1002.7"/>
<line x1="2795.3" y1="912.8" x2="2794.9" y2="1002.7"/>
<line x1="2841.3" y1="912.8" x2="2823" y2="1002.7"/>
<line x1="2856.3" y1="912.8" x2="2834.4" y2="1002.7"/>
<line x1="2866.9" y1="912.8" x2="2849.8" y2="1002.7"/>
<line x1="2217.2" y1="1360.9" x2="2217.7" y2="1451.1"/>
<line x1="2238.9" y1="1360.9" x2="2220.7" y2="1451.1"/>
<line x1="2247.8" y1="1360.9" x2="2237.9" y2="1451.1"/>
<line x1="2261.1" y1="1360.9" x2="2251.7" y2="1451.1"/>
<line x1="2277.3" y1="1360.9" x2="2261.6" y2="1451.1"/>
<line x1="2293.6" y1="1362.4" x2="2271.4" y2="1449.6"/>
<line x1="2317.7" y1="1464.4" x2="2408.4" y2="1464.4"/>
<line x1="2317.7" y1="1467.3" x2="2407.4" y2="1486.6"/>
<line x1="2317.7" y1="1485.6" x2="2407.4" y2="1494"/>
<line x1="2317.7" y1="1498.9" x2="2408.4" y2="1507.7"/>
<line x1="2317.7" y1="1507.3" x2="2407.4" y2="1524.5"/>
<line x1="2317.7" y1="1518.6" x2="2407.4" y2="1540.8"/>
<line x1="2317.7" y1="1608.8" x2="2407.4" y2="1627.5"/>
<line x1="2317.7" y1="1626.5" x2="2407.4" y2="1635.4"/>
<line x1="2317.7" y1="1639.3" x2="2408.4" y2="1648.2"/>
<line x1="2318.7" y1="1692.1" x2="2407.4" y2="1669.9"/>
<line x1="2318.7" y1="1699.5" x2="2407.4" y2="1686.2"/>
<line x1="2317.7" y1="1712.3" x2="2408.4" y2="1702.4"/>
<line x1="2317.7" y1="1725.6" x2="2408.4" y2="1716.7"/>
<line x1="2318.7" y1="1742.8" x2="2407.4" y2="1724.1"/>
</g>
<line x1="167" y1="109.5" x2="2929.5" y2="109.5" stroke="#7c7c7c" stroke-width="1.1"/>
<line x1="166.6" y1="102.2" x2="166.6" y2="117.3" stroke="#777" stroke-width="0.9"/>
<line x1="164.2" y1="114.7" x2="170.1" y2="104.4" stroke="#000" stroke-width="1.7"/>
<line x1="985.3" y1="102.2" x2="985.3" y2="117.3" stroke="#777" stroke-width="0.9"/>
<line x1="982.9" y1="114.7" x2="988.8" y2="104.4" stroke="#000" stroke-width="1.7"/>
<line x1="1803.4" y1="102.2" x2="1803.4" y2="117.3" stroke="#777" stroke-width="0.9"/>
<line x1="1800.9" y1="114.7" x2="1806.8" y2="104.4" stroke="#000" stroke-width="1.7"/>
<line x1="2125.9" y1="102.2" x2="2125.9" y2="117.3" stroke="#777" stroke-width="0.9"/>
<line x1="2123.4" y1="114.7" x2="2129.3" y2="104.4" stroke="#000" stroke-width="1.7"/>
<line x1="2621.5" y1="102.2" x2="2621.5" y2="117.3" stroke="#777" stroke-width="0.9"/>
<line x1="2619" y1="114.7" x2="2624.9" y2="104.4" stroke="#000" stroke-width="1.7"/>
<line x1="2929.1" y1="102.2" x2="2929.1" y2="117.3" stroke="#777" stroke-width="0.9"/>
<line x1="2926.7" y1="114.7" x2="2932.6" y2="104.4" stroke="#000" stroke-width="1.7"/>
<text x="576" y="106" font-size="32" fill="#000" font-weight="normal" text-anchor="middle" font-family="'Liberation Sans', sans-serif">5.200</text>
<text x="1394.5" y="106" font-size="32" fill="#000" font-weight="normal" text-anchor="middle" font-family="'Liberation Sans', sans-serif">5.200</text>
<text x="1965" y="106" font-size="32" fill="#000" font-weight="normal" text-anchor="middle" font-family="'Liberation Sans', sans-serif">2.050</text>
<text x="2374" y="106" font-size="32" fill="#000" font-weight="normal" text-anchor="middle" font-family="'Liberation Sans', sans-serif">3.150</text>
<text x="2776" y="106" font-size="32" fill="#000" font-weight="normal" text-anchor="middle" font-family="'Liberation Sans', sans-serif">1.950</text>
<line x1="3040.5" y1="207" x2="3040.5" y2="1977" stroke="#7c7c7c" stroke-width="1.1"/>
<line x1="3033" y1="207.5" x2="3048" y2="207.5" stroke="#777" stroke-width="0.9"/>
<line x1="3035.4" y1="204.4" x2="3045.6" y2="210.2" stroke="#000" stroke-width="1.7"/>
<line x1="3033" y1="502.8" x2="3048" y2="502.8" stroke="#777" stroke-width="0.9"/>
<line x1="3035.4" y1="499.7" x2="3045.6" y2="505.6" stroke="#000" stroke-width="1.7"/>
<line x1="3033" y1="1706.8" x2="3048" y2="1706.8" stroke="#777" stroke-width="0.9"/>
<line x1="3035.4" y1="1703.6" x2="3045.6" y2="1709.5" stroke="#000" stroke-width="1.7"/>
<line x1="3033" y1="1977.8" x2="3048" y2="1977.8" stroke="#777" stroke-width="0.9"/>
<line x1="3035.4" y1="1974.6" x2="3045.6" y2="1980.5" stroke="#000" stroke-width="1.7"/>
<text transform="translate(3034.5 354.5) rotate(-90)" font-size="32" text-anchor="middle" font-family="'Liberation Sans', sans-serif">1.875</text>
<text transform="translate(3034.5 1104.5) rotate(-90)" font-size="32" text-anchor="middle" font-family="'Liberation Sans', sans-serif">7.650</text>
<text transform="translate(3034.5 1842) rotate(-90)" font-size="32" text-anchor="middle" font-family="'Liberation Sans', sans-serif">1.725</text>
<text transform="translate(338 473.3) scale(1 1.04)" font-size="42.5" fill="#d90a0a" font-weight="bold" text-anchor="middle" font-family="'Liberation Sans', sans-serif">1</text>
<text transform="translate(600.5 714.8) scale(1 1.04)" font-size="42.5" fill="#d90a0a" font-weight="bold" text-anchor="middle" font-family="'Liberation Sans', sans-serif">2</text>
<text x="600.5" y="763" font-size="32.5" fill="#000" font-weight="normal" text-anchor="middle" font-family="'Liberation Sans', sans-serif">568 sq ft</text>
<text transform="translate(1091 714.8) scale(1 1.04)" font-size="42.5" fill="#d90a0a" font-weight="bold" text-anchor="middle" font-family="'Liberation Sans', sans-serif">3</text>
<text x="1092.5" y="765" font-size="32.5" fill="#000" font-weight="normal" text-anchor="middle" font-family="'Liberation Sans', sans-serif">271 sq ft</text>
<text transform="translate(2011.5 714.8) scale(1 1.04)" font-size="42.5" fill="#d90a0a" font-weight="bold" text-anchor="middle" font-family="'Liberation Sans', sans-serif">4</text>
<text x="2027" y="781.3" font-size="32.5" fill="#000" font-weight="normal" text-anchor="middle" font-family="'Liberation Sans', sans-serif">61 sq ft</text>
<text transform="translate(2522 714.8) scale(1 1.04)" font-size="42.5" fill="#d90a0a" font-weight="bold" text-anchor="middle" font-family="'Liberation Sans', sans-serif">5</text>
<text x="2523.5" y="762" font-size="32.5" fill="#000" font-weight="normal" text-anchor="middle" font-family="'Liberation Sans', sans-serif">130 sq ft</text>
<text transform="translate(2718 714.8) scale(1 1.04)" font-size="42.5" fill="#d90a0a" font-weight="bold" text-anchor="middle" font-family="'Liberation Sans', sans-serif">6</text>
<text x="2723" y="754.2" font-size="32.5" fill="#000" font-weight="normal" text-anchor="middle" font-family="'Liberation Sans', sans-serif">45 sq ft</text>
<text transform="translate(1939.5 1031.8) scale(1 1.04)" font-size="42.5" fill="#d90a0a" font-weight="bold" text-anchor="middle" font-family="'Liberation Sans', sans-serif">10</text>
<text x="2166" y="1014" font-size="32.5" fill="#000" font-weight="normal" text-anchor="middle" font-family="'Liberation Sans', sans-serif">62 sq ft</text>
<text transform="translate(2718 1055.8) scale(1 1.04)" font-size="42.5" fill="#d90a0a" font-weight="bold" text-anchor="middle" font-family="'Liberation Sans', sans-serif">6</text>
<text x="2581.5" y="1060" font-size="21.5" fill="#000" font-weight="normal" text-anchor="middle" font-family="'Liberation Sans', sans-serif">48 sq ft</text>
<text transform="translate(1182 1320.8) scale(1 1.04)" font-size="42.5" fill="#d90a0a" font-weight="bold" text-anchor="middle" font-family="'Liberation Sans', sans-serif">9</text>
<text x="1179" y="1369" font-size="32.5" fill="#000" font-weight="normal" text-anchor="middle" font-family="'Liberation Sans', sans-serif">314 sq ft</text>
<text transform="translate(2011.5 1320.8) scale(1 1.04)" font-size="42.5" fill="#d90a0a" font-weight="bold" text-anchor="middle" font-family="'Liberation Sans', sans-serif">8</text>
<text x="2011.5" y="1374.9" font-size="32.5" fill="#000" font-weight="normal" text-anchor="middle" font-family="'Liberation Sans', sans-serif">81 sq ft</text>
<text transform="translate(2521.5 1320.8) scale(1 1.04)" font-size="42.5" fill="#d90a0a" font-weight="bold" text-anchor="middle" font-family="'Liberation Sans', sans-serif">7</text>
<text x="2523" y="1370.5" font-size="32.5" fill="#000" font-weight="normal" text-anchor="middle" font-family="'Liberation Sans', sans-serif">166 sq ft</text>
<text transform="translate(2229 1584.8) scale(1 1.04)" font-size="42.5" fill="#d90a0a" font-weight="bold" text-anchor="middle" font-family="'Liberation Sans', sans-serif">6</text>
<text x="2225.5" y="1634" font-size="32.5" fill="#000" font-weight="normal" text-anchor="middle" font-family="'Liberation Sans', sans-serif">52 sq ft</text>
<text transform="translate(1994.3 2115.1) scale(1.077 1)" font-size="40" font-family="'Liberation Sans', sans-serif" xml:space="preserve"><tspan font-weight="bold" fill="#000">legend</tspan><tspan fill="#000"> </tspan><tspan fill="#cf0808">1</tspan><tspan fill="#000"> entrance </tspan><tspan fill="#cf0808">2</tspan><tspan fill="#000"> living </tspan><tspan fill="#cf0808">3</tspan><tspan fill="#000"> dining</tspan></text>
<text transform="translate(1994.3 2164.9) scale(1.077 1)" font-size="40" font-family="'Liberation Sans', sans-serif" xml:space="preserve"><tspan fill="#cf0808">4</tspan><tspan fill="#000"> bathroom </tspan><tspan fill="#cf0808">5</tspan><tspan fill="#000"> guest room </tspan><tspan fill="#cf0808">6</tspan><tspan fill="#000"> dressing room</tspan></text>
<text transform="translate(1994.3 2214.7) scale(1.077 1)" font-size="40" font-family="'Liberation Sans', sans-serif" xml:space="preserve"><tspan fill="#cf0808">7</tspan><tspan fill="#000"> master bedroom </tspan><tspan fill="#cf0808">8</tspan><tspan fill="#000"> master bathroom</tspan></text>
<text transform="translate(1994.3 2264.5) scale(1.077 1)" font-size="40" font-family="'Liberation Sans', sans-serif" xml:space="preserve"><tspan fill="#cf0808">9</tspan><tspan fill="#000"> kitchen </tspan><tspan fill="#cf0808">10</tspan><tspan fill="#000"> corridor</tspan></text>
<rect x="51" y="38.8" width="3196.3" height="2257.1" fill="none" stroke="#7c1000" stroke-width="2.6"/>
<path d="M2857.1 2295.9 L2857.1 2108.5 L3247.3 2108.5" fill="none" stroke="#7c1000" stroke-width="2.5"/>
<text transform="translate(2864.5 2140) scale(1 1.07)" font-size="21.67" font-family="'Liberation Mono', monospace" font-weight="normal" stroke="#000" stroke-width="0.35" xml:space="preserve">CONCEPT</text>
<text transform="translate(2864.5 2172.2) scale(1 1.07)" font-size="21.67" font-family="'Liberation Mono', monospace" font-weight="bold" xml:space="preserve">Minimalist, sleek and best</text>
<text transform="translate(2864.5 2203.9) scale(1 1.07)" font-size="21.67" font-family="'Liberation Mono', monospace" font-weight="bold" xml:space="preserve">use of space</text>
<text transform="translate(2864.5 2235.6) scale(1 1.07)" font-size="21.67" font-family="'Liberation Mono', monospace" font-weight="normal" stroke="#000" stroke-width="0.35" xml:space="preserve">Housing / Large Apartment</text>
<text transform="translate(2864.5 2260.7) scale(1 1.07)" font-size="21.67" font-family="'Liberation Mono', monospace" font-weight="normal" stroke="#000" stroke-width="0.35" xml:space="preserve">Hong Kong, Hong Kong</text>
</svg>
</body></html>
